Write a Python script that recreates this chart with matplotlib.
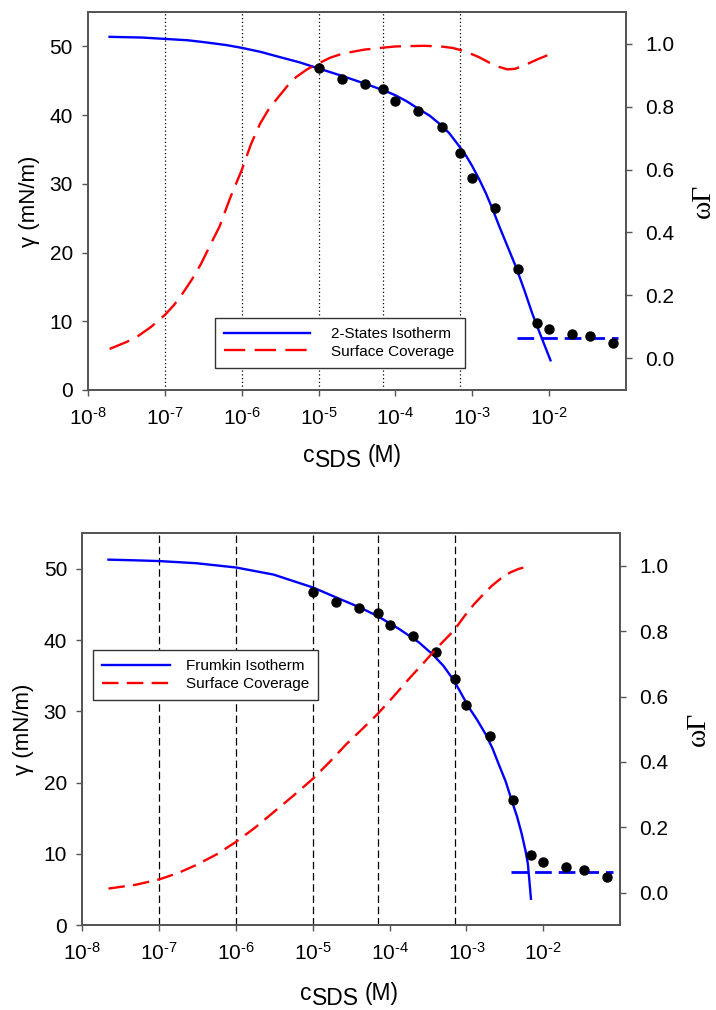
import numpy as np
import matplotlib
matplotlib.use("Agg")
import matplotlib.pyplot as plt
from matplotlib.ticker import FixedLocator, FuncFormatter

plt.rcParams["font.family"] = ["Liberation Sans", "DejaVu Sans"]
plt.rcParams["mathtext.fontset"] = "custom"
plt.rcParams["mathtext.rm"] = "Liberation Sans"
plt.rcParams["mathtext.it"] = "Liberation Sans"
plt.rcParams["mathtext.default"] = "regular"

# measured surface tension (same points in both panels)
conc = [1e-5, 2e-5, 4e-5, 7e-5, 1e-4, 2e-4, 4e-4, 7e-4, 1e-3, 2e-3, 4e-3,
        7e-3, 1e-2, 2e-2, 3.4e-2, 6.8e-2]
gamma = [46.8, 45.3, 44.5, 43.8, 42.1, 40.6, 38.3, 34.5, 30.9, 26.5, 17.6,
         9.8, 8.9, 8.2, 7.8, 6.8]

# reference concentrations marked by vertical lines
mark_c = [1e-7, 1e-6, 1e-5, 7e-5, 7e-4]

# plateau above the CMC
cmc_c = [3.8e-3, 0.08]
cmc_gamma = [7.5, 7.5]

# 2-states model (top panel), log10 concentration
ts_logc = [-7.72, -7.3, -7.0, -6.7, -6.47, -6.2, -6.0, -5.75, -5.52, -5.25, -5.0,
           -4.69, -4.40, -4.15, -4.0, -3.85, -3.71, -3.55, -3.41, -3.3, -3.17,
           -3.08, -3.0, -2.91, -2.82, -2.73, -2.65, -2.54, -2.43, -2.32, -2.22,
           -2.1, -1.98]
ts_gamma = [51.4, 51.3, 51.1, 50.9, 50.6, 50.2, 49.8, 49.2, 48.5, 47.7, 46.8,
            45.7, 44.6, 43.6, 42.9, 42.0, 41.0, 39.9, 38.6, 37.4, 35.5,
            34.1, 32.6, 30.7, 28.6, 26.2, 23.9, 20.9, 17.9, 14.5, 11.2,
            7.7, 4.3]
ts_cov_logc = [-7.72, -7.5, -7.36, -7.18, -7.0, -6.88, -6.77, -6.65, -6.53, -6.41,
               -6.29, -6.15, -6.0, -5.88, -5.76, -5.64, -5.52, -5.4, -5.29, -5.15,
               -5.0, -4.85, -4.69, -4.40, -4.0, -3.63, -3.41, -3.25, -3.1, -2.92,
               -2.78, -2.65, -2.54, -2.44, -2.32, -2.15, -1.97]
ts_cov = [0.030, 0.052, 0.069, 0.10, 0.138, 0.17, 0.206, 0.25, 0.30, 0.36,
          0.418, 0.51, 0.598, 0.68, 0.746, 0.795, 0.831, 0.867, 0.894, 0.918,
          0.937, 0.955, 0.968, 0.981, 0.991, 0.993, 0.991, 0.986, 0.976, 0.958,
          0.940, 0.926, 0.918, 0.920, 0.931, 0.950, 0.968]

# Frumkin model (bottom panel)
fr_logc = [-7.66, -7.3, -7.0, -6.52, -6.0, -5.51, -5.0, -4.74, -4.39, -4.16,
           -3.88, -3.62, -3.44, -3.3, -3.16, -2.97, -2.86, -2.75, -2.66, -2.58,
           -2.49, -2.41, -2.34, -2.28, -2.23, -2.20, -2.18, -2.16]
fr_gamma = [51.3, 51.2, 51.1, 50.8, 50.2, 49.2, 47.4, 46.2, 44.6, 43.4,
            41.6, 39.7, 38.0, 36.4, 34.3, 30.6, 28.8, 26.8, 24.8, 22.6,
            20.2, 17.5, 15.2, 12.8, 10.4, 8.6, 6.2, 3.7]
fr_cov_logc = [-7.66, -7.3, -7.0, -6.75, -6.52, -6.25, -6.0, -5.75, -5.51, -5.25,
               -5.0, -4.78, -4.56, -4.35, -4.155, -3.95, -3.73, -3.55, -3.38, -3.16,
               -3.03, -2.90, -2.78, -2.67, -2.55, -2.43, -2.32, -2.22]
fr_cov = [0.012, 0.024, 0.040, 0.06, 0.084, 0.117, 0.155, 0.199, 0.246, 0.297,
          0.348, 0.400, 0.455, 0.502, 0.547, 0.600, 0.659, 0.705, 0.750, 0.803,
          0.845, 0.883, 0.913, 0.939, 0.962, 0.980, 0.991, 0.997]

x_ticks = [1e-8, 1e-7, 1e-6, 1e-5, 1e-4, 1e-3, 1e-2]
left_ticks = [0, 10, 20, 30, 40, 50]
right_ticks = [0.0, 0.2, 0.4, 0.6, 0.8, 1.0]

SPINE = "#555555"
FS = 15


def exp_fmt(v, pos):
    e = int(round(np.log10(v)))
    return r"$10^{\text{-}%d}$" % -e if e < 0 else r"$10^{%d}$" % e


def panel(rect, logc, gam, cov_logc, cov, label, grid_ls, red_dash, leg_box, leg_hl, leg_pad, lab_x):
    ax = fig.add_axes(rect)
    ax2 = ax.twinx()
    for c in mark_c:
        ax.axvline(c, color="black", lw=0.9, ls=grid_ls, zorder=1)
    h1, = ax.plot(10 ** np.array(logc), gam, color="#0000ff", lw=1.7, zorder=3, label=label)
    ax.plot(cmc_c, cmc_gamma, color="#0000ff", lw=2.0, dashes=(6, 2.5), zorder=3)
    ax.plot(conc, gamma, "o", color="black", ms=6.5, zorder=4)
    h2, = ax2.plot(10 ** np.array(cov_logc), cov, color="#ff0000", lw=1.7,
                   dashes=red_dash, label="Surface Coverage")

    ax.set_xscale("log")
    ax.set_xlim(1e-8, 1e-1)
    ax.set_ylim(0, 55)
    ax2.set_ylim(-0.1, 1.1)
    ax.xaxis.set_major_locator(FixedLocator(x_ticks))
    ax.xaxis.set_major_formatter(FuncFormatter(exp_fmt))
    ax.xaxis.set_minor_locator(FixedLocator([]))
    ax.set_yticks(left_ticks)
    ax2.set_yticks(right_ticks)
    ax2.set_yticklabels([f"{v:.1f}" for v in right_ticks])

    for a in (ax, ax2):
        for s in a.spines.values():
            s.set_color(SPINE)
            s.set_linewidth(1.3)
    ax.tick_params(axis="x", direction="out", length=4, width=1, color=SPINE,
                   labelsize=FS, pad=8)
    ax.tick_params(axis="y", direction="out", length=4, width=1, color=SPINE,
                   labelsize=FS, pad=7)
    ax2.tick_params(axis="y", direction="out", length=4, width=1, color=SPINE,
                    labelsize=FS, pad=10)

    ax.set_ylabel("\u03b3 (mN/m)", fontsize=16, labelpad=7)
    ax2.set_ylabel("\u03c9\u0393", fontsize=20, family=["Liberation Serif", "DejaVu Serif"],
                   rotation=90, labelpad=12)

    # x label: c with full-size subscript SDS
    t1 = ax.text(lab_x, -0.19, "c", transform=ax.transAxes, fontsize=16.5,
                 ha="left", va="baseline")
    t2 = ax.annotate("SDS", xy=(1, 0), xycoords=t1, xytext=(0.5, -4),
                     textcoords="offset points", fontsize=16.5, ha="left", va="bottom")
    ax.annotate("(M)", xy=(1, 0), xycoords=t2, xytext=(4, 4),
                textcoords="offset points", fontsize=16.5, ha="left", va="bottom")

    leg = ax2.legend([h1, h2], [label, "Surface Coverage"], loc="lower left",
                     bbox_to_anchor=leg_box, mode="expand", borderaxespad=0,
                     fontsize=11, handlelength=leg_hl, handletextpad=leg_pad,
                     labelspacing=0.25, borderpad=0.6, fancybox=False,
                     edgecolor="#333333", framealpha=1)
    leg.get_frame().set_linewidth(1.0)
    return ax, ax2


fig = plt.figure(figsize=(7.16, 10.10), dpi=100)

panel([0.123, 0.614, 0.751, 0.374], ts_logc, ts_gamma, ts_cov_logc, ts_cov,
      "2-States Isotherm", (0, (1, 2)), (9, 4), (0.236, 0.058, 0.465, 0.148), 5.6, 1.4, 0.40)
panel([0.115, 0.084, 0.751, 0.388], fr_logc, fr_gamma, fr_cov_logc, fr_cov,
      "Frumkin Isotherm", (0, (6, 3)), (7, 3.5), (0.019, 0.574, 0.42, 0.148), 4.5, 1.0, 0.405)

fig.savefig("out.png", dpi=100)
